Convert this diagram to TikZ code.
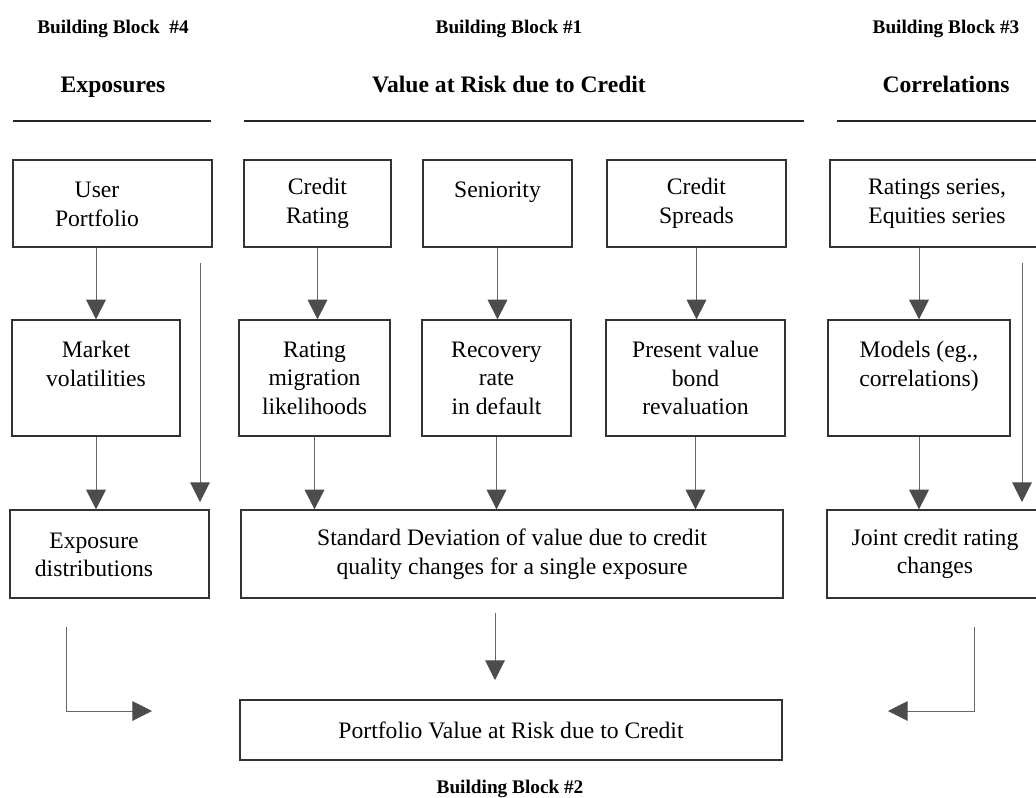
\documentclass[tikz,border=0pt]{standalone}
\usepackage{fontspec}
\setmainfont{Liberation Serif}
\usetikzlibrary{arrows.meta, positioning, calc}

\begin{document}
\begin{tikzpicture}[x=0.025cm, y=-0.025cm,
    box/.style={draw=black!80, line width=0.9pt, align=center, inner sep=0pt,
      font=\fontsize{16.8}{20.3}\selectfont},
    sz/.style 2 args={minimum width=#1*0.025cm, minimum height=#2*0.025cm},
    txt/.style={align=center, inner sep=0pt, font=\fontsize{16.8}{20.3}\selectfont},
    blk/.style={anchor=base, inner sep=0pt, font=\bfseries\fontsize{13.7}{16}\selectfont},
    head/.style={anchor=base, inner sep=0pt, font=\bfseries\fontsize{16.8}{20}\selectfont},
    rule/.style={line width=1.6pt, black!85},
    arr/.style={draw=black!60, line width=0.7pt,
      -{Triangle[length=14pt, width=14pt, color=black!70]}}]
           \path[use as bounding box, clip] (0,0) rectangle (1036,797);

           % headings
           \node[blk] (bb4) at (113,33) {Building Block \ \#4};
           \node[blk] (bb1) at (509,33) {Building Block \#1};
           \node[blk] (bb3) at (946,33) {Building Block \#3};
           \node[head] (hexp) at (113,92) {Exposures};
           \node[head] (hvar) at (509,92) {Value at Risk due to Credit};
           \node[head] (hcor) at (946,92) {Correlations};
           \draw[rule] (13,121) -- (211,121);
           \draw[rule] (244,121) -- (804,121);
           \draw[rule] (837,121) -- (1040,121);

           % top row
           \node[box, sz={199}{87}] (up) at (112.5,203.5) {};
           \node[txt] (uptxt) at (97,204.5) {User\\Portfolio};
           \node[box, sz={147}{87}] (cr) at (317.5,203.5) {Credit\\Rating};
           \node[box, sz={149}{87}] (sen) at (497.5,203.5) {Seniority\\~};
           \node[box, sz={179}{87}] (cs) at (696.5,203.5) {Credit\\Spreads};
           \node[box, sz={214}{87}] (rs) at (937,203.5) {Ratings series,\\Equities series};

           % middle row
           \node[box, sz={168}{116}] (mv) at (96,378) {Market\\volatilities\\~};
           \node[box, sz={151}{116}] (rm) at (314.5,378) {Rating\\migration\\likelihoods};
           \node[box, sz={149}{116}] (rr) at (496.5,378) {Recovery\\rate\\in default};
           \node[box, sz={179}{116}] (pv) at (695.5,378) {Present value\\bond\\revaluation};
           \node[box, sz={182}{116}] (mo) at (919,378) {Models (eg.,\\correlations)\\~};

           % bottom row
           \node[box, sz={199}{88}] (ed) at (109.5,554) {};
           \node[txt] (edtxt) at (94,555) {Exposure\\distributions};
           \node[box, sz={542}{88}] (sd) at (512,554) {Standard Deviation of value due to credit\\quality changes for a single exposure};
           \node[box, sz={216}{88}] (jc) at (935,554) {Joint credit rating\\changes};
           \node[box, sz={542}{60}] (pf) at (511,730) {Portfolio Value at Risk due to Credit};
           \node[blk] (bb2) at (510,793) {Building Block \#2};

           % connectors
           \coordinate (l1) at (200,263);
           \coordinate (l2) at (200,502);
           \coordinate (r1) at (1022,263);
           \coordinate (r2) at (1022,502);
           \coordinate (s1) at (495,613);
           \coordinate (s2) at (495,680);
           \coordinate (e1) at (66,627);
           \coordinate (e2) at (152,711);
           \coordinate (f1) at (974,627);
           \coordinate (f2) at (888,711);

           \draw[arr] (up.south -| mv.north) -- (mv.north);
           \draw[arr] (cr.south) -- (cr.south |- rm.north);
           \draw[arr] (sen.south) -- (sen.south |- rr.north);
           \draw[arr] (cs.south) -- (cs.south |- pv.north);
           \draw[arr] (rs.south -| mo.north) -- (mo.north);
           \draw[arr] (l1) -- (l2);
           \draw[arr] (r1) -- (r2);
           \draw[arr] (mv.south) -- (mv.south |- ed.north);
           \draw[arr] (rm.south) -- (rm.south |- sd.north);
           \draw[arr] (rr.south) -- (rr.south |- sd.north);
           \draw[arr] (pv.south) -- (pv.south |- sd.north);
           \draw[arr] (mo.south) -- (mo.south |- jc.north);
           \draw[arr] (s1) -- (s2);
           \draw[arr] (e1) |- (e2);
           \draw[arr] (f1) |- (f2);
        \end{tikzpicture}
\end{document}
